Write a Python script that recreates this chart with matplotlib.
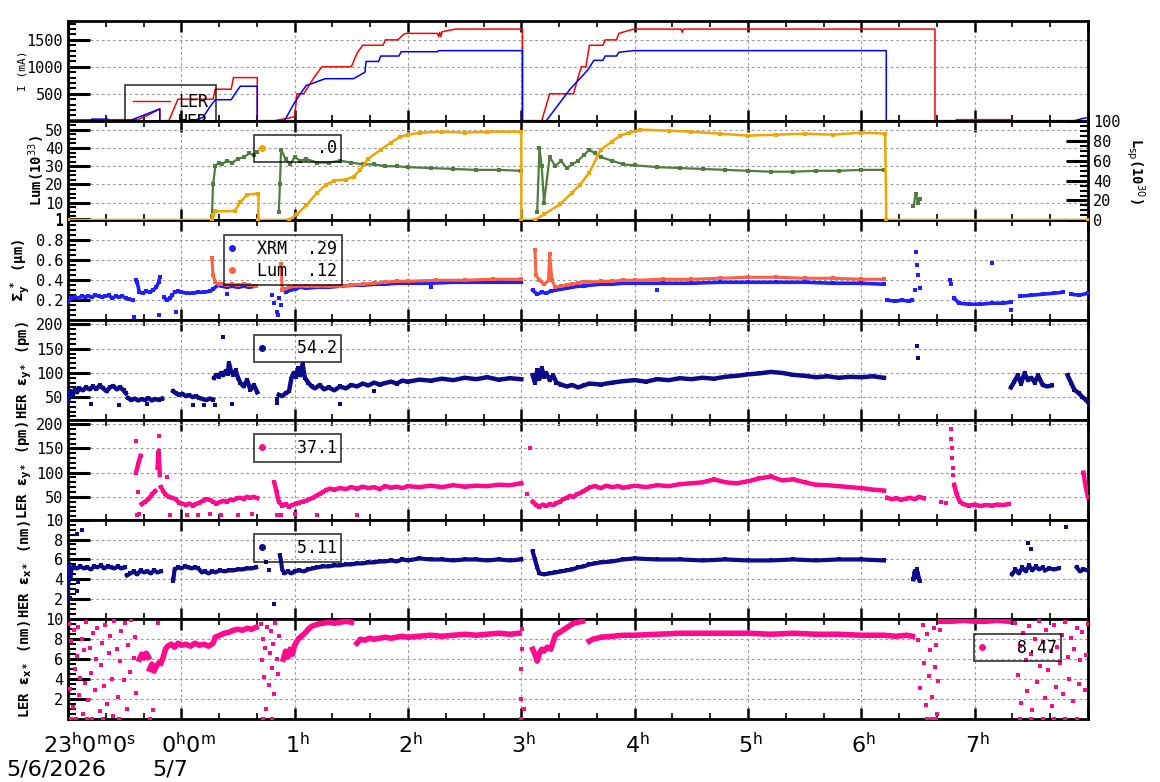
import numpy as np
import matplotlib
matplotlib.use('Agg')
import matplotlib.pyplot as plt
from matplotlib.ticker import MultipleLocator
from matplotlib.lines import Line2D
import matplotlib.transforms as mtransforms

nan = np.nan

# ---- beam currents (hours from 0h of 5/7, mA)
ler_t = [-1.0, -0.38, -0.30, -0.19, -0.19, -0.11, -0.06, -0.03, 0.28, 0.30, 0.44, 0.46, 0.67, 0.67, 0.82, 0.95,
         1.00, 1.02, 1.08, 1.17, 1.24, 1.50, 1.55, 1.60, 1.78, 1.80, 1.91, 1.96, 1.98, 2.26, 2.27, 2.28, 2.29,
         2.30, 2.42, 3.01, 3.01, 3.18, 3.25, 3.46, 3.50, 3.53, 3.57, 3.60, 3.72, 3.74, 3.84, 3.86, 3.99, 4.41,
         4.42, 4.43, 6.65, 6.65, 6.83, 6.84, 7.33, 7.34, 8.0]
ler_i = [15, 20, 100, 215, 0, 0, 250, 400, 400, 585, 585, 800, 800, 0, 0, 50,
         80, 500, 500, 800, 1000, 1000, 1250, 1400, 1400, 1500, 1500, 1600, 1620, 1620, 1560, 1640, 1560,
         1650, 1700, 1700, 0, 0, 500, 500, 800, 1000, 1000, 1400, 1400, 1500, 1500, 1620, 1700, 1700,
         1640, 1700, 1700, 0, 0, 20, 20, 0, 0]
her_t = [-1.0, -0.80, -0.79, -0.65, -0.64, -0.45, -0.19, -0.19, 0.10, 0.19, 0.25, 0.30, 0.44, 0.48, 0.52, 0.67,
         0.67, 0.91, 1.00, 1.10, 1.27, 1.52, 1.62, 1.63, 1.74, 1.76, 1.92, 1.94, 2.26, 2.27, 3.01, 3.01, 3.22,
         3.43, 3.59, 3.64, 3.72, 3.74, 3.84, 3.86, 3.99, 6.22, 6.22, 7.88, 7.95, 8.0]
her_i = [5, 5, 30, 30, 5, 5, 220, 0, 0, 60, 250, 390, 390, 520, 640, 640,
         0, 0, 340, 650, 780, 780, 900, 1100, 1100, 1200, 1200, 1280, 1280, 1300, 1300, 0, 0,
         585, 950, 1120, 1120, 1200, 1200, 1270, 1300, 1300, 0, 0, 40, 60]

# ---- luminosity (10^33) and specific luminosity (10^30)
lum = [(0.27, 3), (0.28, 20), (0.30, 30), (0.33, 32), (0.36, 31), (0.40, 33), (0.45, 32), (0.50, 34), (0.55, 35),
       (0.60, 37), (0.64, 36), (0.67, 38), (nan, nan),
       (0.86, 5), (0.87, 20), (0.88, 39), (0.92, 34), (0.96, 31), (1.00, 35), (1.05, 33), (1.10, 34), (1.20, 32),
       (1.30, 32), (1.40, 33), (1.50, 32), (1.60, 31), (1.70, 31), (1.80, 30), (1.90, 30), (2.00, 29.5),
       (2.20, 29), (2.40, 28.5), (2.60, 28), (2.80, 28), (3.00, 27.5), (nan, nan),
       (3.14, 5), (3.16, 40), (3.18, 30), (3.20, 10), (3.25, 35), (3.30, 30), (3.35, 33), (3.40, 29),
       (3.45, 31), (3.50, 33), (3.55, 36), (3.60, 39), (3.65, 37), (3.70, 35), (3.80, 33), (3.90, 31),
       (4.00, 30.5), (4.20, 29.5), (4.40, 29), (4.60, 28.5), (4.80, 28), (5.00, 27.5), (5.20, 27), (5.40, 27),
       (5.60, 27.5), (5.80, 27.5), (6.00, 28), (6.20, 28), (nan, nan),
       (6.46, 8), (6.48, 15), (6.50, 10), (6.52, 12)]
lsp = [(-1.0, 0.5), (0.27, 0.5), (0.28, 5), (0.30, 9), (0.47, 9.5), (0.52, 18), (0.58, 26), (0.68, 27), (0.68, 0.5),
       (0.95, 0.5), (1.02, 6), (1.10, 15), (1.20, 28), (1.28, 36), (1.35, 40), (1.45, 41), (1.52, 44),
       (1.58, 51), (1.65, 62), (1.76, 71), (1.85, 78), (1.93, 84), (2.00, 86), (2.11, 88), (2.30, 89),
       (2.50, 88), (2.70, 89), (3.00, 89), (3.00, 0.5), (3.12, 0.5), (3.20, 6), (3.34, 16), (3.45, 28),
       (3.52, 36), (3.60, 48), (3.70, 71), (3.80, 79), (3.87, 85), (3.95, 88), (4.05, 91), (4.30, 90),
       (4.50, 89), (4.75, 87), (5.00, 85), (5.25, 86), (5.50, 87), (5.75, 86), (6.00, 88), (6.21, 87),
       (6.22, 0.5), (8.0, 0.5)]

# ---- vertical beam size at IP (um)
xrm = [(-1.00, 0.18), (-0.97, 0.22), (-0.94, 0.23), (-0.91, 0.22), (-0.88, 0.24), (-0.85, 0.23), (-0.82, 0.24),
       (-0.79, 0.23), (-0.76, 0.25), (-0.73, 0.24), (-0.70, 0.23), (-0.67, 0.24), (-0.64, 0.25), (-0.61, 0.22),
       (-0.58, 0.24), (-0.55, 0.23), (-0.52, 0.24), (-0.49, 0.22), (-0.46, 0.21), (-0.43, 0.20), (nan, nan),
       (-0.40, 0.40), (-0.39, 0.38), (-0.37, 0.28), (-0.34, 0.27), (-0.31, 0.29), (-0.28, 0.28), (-0.25, 0.30),
       (-0.22, 0.33), (-0.20, 0.38), (-0.19, 0.43), (nan, nan),
       (-0.15, 0.23), (-0.13, 0.20), (-0.10, 0.22), (-0.08, 0.25), (nan, nan),
       (-0.06, 0.28), (-0.03, 0.29), (0.00, 0.28), (0.05, 0.27), (0.10, 0.27), (0.15, 0.28), (0.20, 0.28),
       (0.25, 0.29), (0.28, 0.31), (0.32, 0.35), (0.36, 0.34), (0.40, 0.33), (0.45, 0.34), (0.50, 0.33),
       (0.55, 0.34), (0.60, 0.33), (0.65, 0.34), (nan, nan),
       (0.92, 0.28), (0.96, 0.30), (1.00, 0.31), (1.05, 0.33), (1.10, 0.32), (1.20, 0.33), (1.30, 0.33),
       (1.40, 0.34), (1.50, 0.35), (1.60, 0.35), (1.70, 0.36), (1.80, 0.36), (1.90, 0.37), (2.00, 0.37),
       (2.20, 0.37), (2.40, 0.38), (2.60, 0.38), (2.80, 0.38), (3.00, 0.38), (nan, nan),
       (3.10, 0.30), (3.14, 0.26), (3.18, 0.28), (3.22, 0.27), (3.26, 0.29), (3.30, 0.30), (3.35, 0.31),
       (3.40, 0.32), (3.45, 0.33), (3.50, 0.34), (3.55, 0.34), (3.60, 0.35), (3.70, 0.36), (3.80, 0.36),
       (3.90, 0.37), (4.00, 0.37), (4.25, 0.37), (4.50, 0.37), (4.75, 0.38), (5.00, 0.38), (5.25, 0.38),
       (5.50, 0.38), (5.75, 0.37), (6.00, 0.37), (6.20, 0.36), (nan, nan),
       (6.23, 0.20), (6.30, 0.19), (6.36, 0.20), (6.42, 0.19), (6.45, 0.20), (nan, nan),
       (6.82, 0.22), (6.86, 0.17), (6.95, 0.16), (7.05, 0.16), (7.15, 0.17), (7.25, 0.17), (7.32, 0.18), (nan, nan),
       (7.40, 0.24), (7.50, 0.25), (7.60, 0.26), (7.70, 0.27), (7.78, 0.28), (nan, nan),
       (7.85, 0.26), (7.92, 0.25), (8.00, 0.27)]
xrm_out = [(-0.42, 0.03), (-0.20, 0.05), (-0.05, 0.08), (0.80, 0.25), (0.82, 0.17), (0.84, 0.08), (0.85, 0.05),
           (0.86, 0.22), (0.88, 0.15), (6.47, 0.30), (6.48, 0.68), (6.49, 0.55), (6.50, 0.45), (6.52, 0.32),
           (6.78, 0.40), (6.79, 0.36), (7.32, 0.10), (7.15, 0.57), (2.20, 0.33), (4.20, 0.30), (0.40, 0.26)]
lum_sz = [(0.27, 0.62), (0.28, 0.45), (0.30, 0.38), (0.33, 0.36), (0.36, 0.36), (0.40, 0.35), (0.45, 0.36),
          (0.50, 0.35), (0.55, 0.36), (0.60, 0.35), (0.66, 0.34), (nan, nan),
          (0.88, 0.56), (0.89, 0.30), (0.91, 0.31), (0.95, 0.33), (1.00, 0.34), (1.10, 0.34), (1.20, 0.34),
          (1.30, 0.34), (1.40, 0.34), (1.50, 0.35), (1.60, 0.36), (1.70, 0.37), (1.80, 0.38), (1.90, 0.39),
          (2.00, 0.39), (2.25, 0.40), (2.50, 0.40), (2.75, 0.41), (3.00, 0.41), (nan, nan),
          (3.12, 0.70), (3.13, 0.45), (3.16, 0.40), (3.20, 0.36), (3.24, 0.40), (3.25, 0.66), (3.27, 0.40),
          (3.30, 0.33), (3.35, 0.34), (3.40, 0.35), (3.45, 0.36), (3.50, 0.37), (3.55, 0.38), (3.60, 0.38),
          (3.70, 0.39), (3.80, 0.39), (3.90, 0.40), (4.00, 0.40), (4.25, 0.41), (4.50, 0.41), (4.75, 0.42),
          (5.00, 0.43), (5.25, 0.43), (5.50, 0.42), (5.75, 0.42), (6.00, 0.41), (6.20, 0.41)]

# ---- HER vertical emittance (pm)
her_ey = [(-1.00, 40), (-0.98, 62), (-0.96, 55), (-0.94, 66), (-0.92, 60), (-0.90, 68), (-0.87, 64), (-0.84, 70),
          (-0.81, 66), (-0.78, 72), (-0.75, 67), (-0.72, 74), (-0.69, 68), (-0.66, 62), (-0.63, 70), (-0.60, 73),
          (-0.57, 66), (-0.54, 70), (-0.51, 64), (-0.49, 58), (nan, nan),
          (-0.47, 48), (-0.44, 44), (-0.41, 47), (-0.38, 43), (-0.35, 46), (-0.32, 44), (-0.29, 48), (-0.26, 43),
          (-0.23, 46), (-0.20, 44), (-0.17, 47), (nan, nan),
          (-0.07, 62), (-0.05, 58), (-0.02, 55), (0.01, 57), (0.04, 52), (0.07, 54), (0.10, 50), (0.13, 52),
          (0.16, 48), (0.19, 46), (0.22, 44), (0.25, 47), (0.28, 45), (nan, nan),
          (0.29, 90), (0.31, 96), (0.33, 92), (0.35, 100), (0.37, 95), (0.39, 104), (0.41, 98), (0.42, 120),
          (0.44, 102), (0.46, 96), (0.48, 105), (0.50, 90), (0.52, 80), (0.55, 72), (0.58, 85), (0.61, 65),
          (0.64, 75), (0.67, 60), (nan, nan),
          (0.86, 55), (0.89, 52), (0.92, 58), (0.95, 62), (0.97, 88), (0.99, 100), (1.01, 92), (1.03, 110),
          (1.05, 95), (1.07, 118), (1.09, 90), (1.12, 80), (1.15, 72), (1.18, 68), (1.22, 75), (1.26, 66),
          (1.30, 70), (1.35, 64), (1.40, 72), (1.45, 68), (1.50, 75), (1.55, 72), (1.60, 78), (1.65, 74),
          (1.70, 80), (1.75, 76), (1.80, 79), (1.85, 82), (1.90, 78), (1.95, 84), (2.00, 82), (2.10, 86),
          (2.20, 84), (2.30, 88), (2.40, 85), (2.50, 90), (2.60, 87), (2.70, 91), (2.80, 86), (2.90, 89),
          (3.00, 87), (nan, nan),
          (3.10, 95), (3.12, 80), (3.14, 105), (3.16, 88), (3.18, 110), (3.20, 92), (3.22, 100), (3.25, 85),
          (3.28, 95), (3.31, 80), (3.35, 76), (3.40, 72), (3.45, 75), (3.50, 70), (3.55, 74), (3.60, 78),
          (3.70, 76), (3.80, 80), (3.90, 83), (4.00, 85), (4.10, 82), (4.20, 87), (4.30, 85), (4.40, 89),
          (4.50, 87), (4.60, 90), (4.70, 88), (4.80, 92), (4.90, 94), (5.00, 97), (5.10, 99), (5.20, 102),
          (5.30, 100), (5.40, 96), (5.50, 94), (5.60, 91), (5.70, 93), (5.80, 90), (5.90, 92), (6.00, 91),
          (6.10, 93), (6.20, 90), (nan, nan),
          (7.32, 70), (7.35, 82), (7.38, 95), (7.41, 78), (7.44, 100), (7.47, 85), (7.50, 90), (7.53, 80),
          (7.56, 95), (7.60, 75), (7.64, 72), (7.68, 74), (nan, nan),
          (7.82, 95), (7.85, 80), (7.88, 65), (7.92, 58), (7.95, 50), (7.98, 45), (8.00, 40)]
her_ey_out = [(0.37, 175), (6.49, 155), (6.50, 130), (-0.80, 35), (-0.55, 34), (0.10, 34), (0.30, 34),
              (0.45, 35), (0.84, 38), (0.84, 46), (1.40, 36), (1.70, 62), (-0.30, 36), (0.20, 34)]

# ---- LER vertical emittance (pm)
ler_ey = [(-0.40, 100), (-0.38, 118), (-0.36, 135), (nan, nan),
          (-0.35, 35), (-0.32, 40), (-0.29, 45), (-0.26, 55), (-0.23, 62), (nan, nan),
          (-0.21, 110), (-0.20, 145), (-0.19, 95), (nan, nan),
          (-0.18, 70), (-0.16, 62), (-0.14, 55), (-0.11, 50), (-0.08, 48), (-0.05, 45), (-0.02, 38), (0.01, 36),
          (0.04, 33), (0.07, 36), (0.10, 32), (0.13, 35), (0.16, 38), (0.19, 42), (0.22, 45), (0.25, 44),
          (0.28, 40), (0.31, 36), (0.34, 39), (0.37, 42), (0.40, 40), (0.43, 44), (0.46, 43), (0.49, 47),
          (0.52, 48), (0.55, 46), (0.58, 50), (0.61, 48), (0.64, 50), (0.67, 47), (nan, nan),
          (0.82, 80), (0.84, 60), (0.86, 40), (0.89, 32), (0.92, 35), (0.95, 30), (0.98, 33), (1.01, 36),
          (1.04, 38), (1.07, 40), (1.10, 42), (1.13, 45), (1.16, 48), (1.19, 52), (1.22, 56), (1.25, 60),
          (1.28, 64), (1.31, 67), (1.35, 65), (1.40, 68), (1.45, 66), (1.50, 70), (1.55, 67), (1.60, 71),
          (1.65, 68), (1.70, 70), (1.75, 66), (1.80, 72), (1.85, 69), (1.90, 71), (1.95, 68), (2.00, 72),
          (2.10, 70), (2.20, 73), (2.30, 70), (2.40, 74), (2.50, 71), (2.60, 73), (2.70, 72), (2.80, 75),
          (2.90, 74), (3.00, 78), (nan, nan),
          (3.10, 40), (3.13, 33), (3.16, 30), (3.19, 34), (3.22, 31), (3.25, 35), (3.28, 33), (3.31, 37),
          (3.34, 40), (3.37, 45), (3.40, 48), (3.43, 52), (3.46, 50), (3.49, 55), (3.52, 58), (3.55, 62),
          (3.58, 66), (3.61, 70), (3.65, 72), (3.70, 68), (3.75, 73), (3.80, 70), (3.85, 72), (3.90, 69),
          (3.95, 71), (4.00, 73), (4.10, 70), (4.20, 74), (4.30, 72), (4.40, 76), (4.50, 78), (4.60, 80),
          (4.70, 86), (4.80, 80), (4.90, 78), (5.00, 82), (5.10, 88), (5.20, 92), (5.30, 84), (5.40, 86),
          (5.50, 80), (5.60, 75), (5.70, 74), (5.80, 72), (5.90, 70), (6.00, 68), (6.10, 65), (6.20, 63),
          (nan, nan),
          (6.23, 48), (6.27, 45), (6.31, 47), (6.35, 44), (6.39, 46), (6.43, 48), (6.47, 45), (6.51, 50),
          (6.55, 47), (nan, nan),
          (6.82, 75), (6.84, 55), (6.87, 40), (6.90, 35), (6.95, 32),
          (7.00, 34), (7.05, 31), (7.10, 33), (7.15, 32), (7.20, 34), (7.25, 33), (7.30, 35), (nan, nan),
          (7.96, 100), (7.98, 70), (8.00, 50)]
ler_ey_out = [(-0.40, 165), (-0.38, 60), (-0.39, 12), (-0.37, 15), (-0.20, 175), (-0.13, 90), (-0.10, 12),
              (0.05, 12), (0.15, 12), (0.25, 14), (0.35, 12), (0.50, 12), (0.62, 14), (0.84, 12), (0.88, 12),
              (1.00, 14), (1.20, 12), (1.55, 12), (3.08, 150), (3.05, 55), (6.70, 40), (6.75, 38),
              (6.79, 190), (6.79, 170), (6.80, 150), (6.80, 130), (6.81, 110), (6.81, 95)]

# ---- HER horizontal emittance (nm)
her_ex = [(-1.00, 3.0), (-0.99, 5.5), (-0.98, 4.0), (-0.97, 5.0), (-0.95, 5.2), (-0.92, 5.1), (-0.89, 5.3),
          (-0.86, 5.1), (-0.83, 5.2), (-0.80, 5.0), (-0.77, 5.3), (-0.74, 5.2), (-0.71, 5.4), (-0.68, 5.1),
          (-0.65, 5.3), (-0.62, 5.2), (-0.59, 5.1), (-0.56, 5.3), (-0.53, 5.1), (-0.50, 5.2), (nan, nan),
          (-0.48, 4.4), (-0.45, 4.6), (-0.42, 4.8), (-0.39, 4.5), (-0.36, 4.9), (-0.33, 4.7), (-0.30, 4.8),
          (-0.27, 4.6), (-0.24, 4.9), (-0.21, 4.7), (-0.18, 4.8), (nan, nan),
          (-0.07, 4.0), (-0.06, 5.0), (-0.03, 5.2), (0.00, 5.1), (0.03, 5.3), (0.06, 5.2), (0.09, 5.1),
          (0.12, 5.2), (0.15, 5.1), (0.18, 4.7), (0.21, 4.8), (0.24, 4.6), (0.27, 4.8), (0.30, 4.7),
          (0.34, 4.9), (0.38, 4.8), (0.42, 4.9), (0.46, 4.9), (0.50, 5.0), (0.54, 5.0), (0.58, 5.1),
          (0.62, 5.1), (0.66, 5.2), (nan, nan),
          (0.87, 6.4), (0.88, 5.8), (0.89, 5.0), (0.91, 4.6), (0.94, 4.8), (0.97, 4.6), (1.00, 4.8),
          (1.04, 4.9), (1.08, 4.8), (1.12, 5.0), (1.16, 5.1), (1.20, 5.2), (1.25, 5.3), (1.30, 5.3),
          (1.35, 5.4), (1.40, 5.4), (1.45, 5.5), (1.50, 5.5), (1.55, 5.6), (1.60, 5.6), (1.65, 5.7),
          (1.70, 5.7), (1.75, 5.8), (1.80, 5.8), (1.85, 5.9), (1.90, 5.8), (1.95, 6.0), (2.00, 5.9),
          (2.10, 6.1), (2.20, 6.0), (2.30, 6.0), (2.40, 5.9), (2.50, 6.0), (2.60, 6.0), (2.70, 5.9),
          (2.80, 6.0), (2.90, 5.9), (3.00, 6.0), (nan, nan),
          (3.10, 6.8), (3.12, 6.0), (3.14, 5.2), (3.16, 4.6), (3.20, 4.5), (3.25, 4.6), (3.30, 4.7),
          (3.35, 4.8), (3.40, 4.9), (3.45, 5.0), (3.50, 5.2), (3.55, 5.3), (3.60, 5.5), (3.65, 5.6),
          (3.70, 5.7), (3.80, 5.8), (3.90, 6.0), (4.00, 6.1), (4.20, 6.0), (4.40, 6.0), (4.60, 5.9),
          (4.80, 6.0), (5.00, 5.9), (5.20, 5.9), (5.40, 6.0), (5.60, 5.9), (5.80, 6.0), (6.00, 6.0),
          (6.20, 5.9), (nan, nan),
          (6.46, 4.0), (6.47, 4.8), (6.48, 4.2), (6.49, 5.0), (6.50, 4.5), (6.51, 4.0), (nan, nan),
          (7.33, 4.5), (7.36, 5.0), (7.39, 4.6), (7.42, 5.2), (7.45, 4.8), (7.48, 5.4), (7.51, 4.9),
          (7.54, 5.3), (7.57, 5.0), (7.60, 5.2), (nan, nan),
          (7.62, 4.9), (7.66, 5.1), (7.70, 5.0), (7.74, 5.1), (nan, nan),
          (7.90, 5.2), (7.93, 4.8), (7.96, 5.0), (8.00, 4.9)]
her_ex_out = [(-0.92, 8.6), (-0.88, 9.0), (-0.92, 2.8), (-0.91, 3.7), (-0.98, 2.1), (0.75, 5.7), (0.82, 1.5),
              (0.77, 4.9), (7.47, 7.7), (7.50, 7.0), (6.52, 3.8), (7.81, 9.3), (-0.07, 3.8)]

# ---- LER horizontal emittance (nm)
ler_ex = [(-0.37, 6.0), (-0.35, 6.5), (-0.33, 6.1), (-0.31, 6.6), (-0.29, 6.2), (nan, nan),
          (-0.28, 5.0), (-0.26, 5.5), (-0.24, 4.8), (-0.22, 5.3), (-0.20, 5.6), (nan, nan),
          (-0.18, 5.6), (-0.16, 6.2), (-0.14, 7.0), (-0.12, 7.3), (-0.09, 7.5), (-0.06, 7.2), (-0.03, 7.6),
          (0.00, 7.4), (0.04, 7.5), (0.08, 7.3), (0.12, 7.6), (0.16, 7.4), (0.20, 7.5), (0.24, 7.3), (0.28, 7.6),
          (0.30, 8.2), (0.34, 8.4), (0.38, 8.6), (0.42, 8.7), (0.46, 8.9), (0.50, 9.0), (0.54, 8.9), (0.58, 9.1),
          (0.62, 9.0), (0.66, 9.2), (nan, nan),
          (0.90, 6.0), (0.92, 6.8), (0.94, 6.2), (0.96, 7.0), (0.98, 6.5), (1.00, 7.4), (1.03, 8.0), (1.06, 8.3),
          (1.09, 8.6), (1.12, 9.0), (1.15, 9.3), (1.20, 9.5), (1.25, 9.6), (1.30, 9.7), (1.35, 9.6), (1.40, 9.7),
          (1.45, 9.8), (1.50, 9.7), (nan, nan),
          (1.55, 7.6), (1.58, 8.0), (1.62, 7.9), (1.66, 8.1), (1.70, 8.0), (1.75, 8.1), (1.80, 8.2), (1.85, 8.1),
          (1.90, 8.2), (1.95, 8.3), (2.00, 8.2), (2.10, 8.3), (2.20, 8.4), (2.30, 8.3), (2.40, 8.4), (2.50, 8.5),
          (2.60, 8.4), (2.70, 8.5), (2.80, 8.6), (2.90, 8.5), (2.98, 8.6), (nan, nan),
          (3.10, 7.0), (3.12, 6.5), (3.14, 5.8), (3.16, 6.6), (3.18, 7.0), (3.20, 6.8), (3.23, 7.2), (3.26, 7.0),
          (3.30, 8.4), (3.34, 8.7), (3.38, 9.0), (3.42, 9.3), (3.46, 9.6), (3.50, 9.7), (3.54, 9.8), (nan, nan),
          (3.60, 7.8), (3.63, 8.0), (3.67, 8.1), (3.70, 8.2), (3.80, 8.3), (3.90, 8.4), (4.00, 8.4), (4.20, 8.5),
          (4.40, 8.6), (4.60, 8.6), (4.80, 8.6), (5.00, 8.6), (5.20, 8.5), (5.40, 8.6), (5.60, 8.5), (5.80, 8.5),
          (6.00, 8.4), (6.20, 8.4), (6.30, 8.3), (6.40, 8.4), (6.45, 8.3), (nan, nan),
          (6.70, 9.8), (6.80, 9.8), (6.90, 9.9), (7.00, 9.8), (7.10, 9.8), (7.20, 9.9), (7.30, 9.8)]
ler_ex_out = [(-0.99, 9.5), (-0.98, 3.0), (-0.97, 7.8), (-0.96, 1.2), (-0.95, 8.9), (-0.94, 5.0), (-0.93, 0.0),
              (-0.92, 6.3), (-0.91, 9.2), (-0.90, 2.4), (-0.89, 4.1), (-0.88, 8.0), (-0.87, 0.5), (-0.86, 6.9),
              (-0.85, 3.6), (-0.84, 9.7), (-0.82, 1.9), (-0.81, 7.1), (-0.80, 4.6), (-0.79, 0.0), (-0.78, 8.6),
              (-0.76, 2.9), (-0.75, 6.0), (-0.74, 9.1), (-0.72, 0.8), (-0.71, 5.4), (-0.70, 7.6), (-0.68, 3.3),
              (-0.67, 9.4), (-0.66, 1.5), (-0.64, 6.6), (-0.63, 8.3), (-0.61, 4.0), (-0.60, 0.3), (-0.59, 9.8),
              (-0.57, 7.0), (-0.56, 2.2), (-0.54, 5.8), (-0.53, 8.8), (-0.51, 3.9), (-0.50, 9.6), (-0.48, 1.0),
              (-0.47, 7.4), (-0.45, 4.7), (-0.44, 9.9), (-0.42, 6.1), (-0.41, 8.2), (-0.40, 2.6), (-0.97, 0.0),
              (-0.83, 0.0), (-0.69, 0.0), (-0.55, 0.0), (-0.25, 0.9), (-0.28, 0.0), (-0.21, 9.6),
              (0.70, 9.5), (0.71, 5.9), (0.72, 8.0), (0.73, 4.2), (0.74, 7.1), (0.75, 1.0), (0.76, 9.2),
              (0.77, 3.4), (0.78, 6.6), (0.79, 8.8), (0.80, 5.1), (0.81, 7.5), (0.82, 2.5), (0.83, 9.6),
              (0.84, 6.0), (0.85, 4.5), (0.86, 8.3), (0.72, 0.0), (0.80, 0.0),
              (3.00, 5.0), (3.00, 2.0), (3.01, 7.0), (3.00, 0.0), (3.02, 1.0), (3.01, 9.0),
              (6.50, 7.9), (6.52, 3.1), (6.54, 9.4), (6.55, 5.6), (6.57, 1.4), (6.58, 8.5), (6.60, 4.3),
              (6.61, 6.9), (6.62, 2.2), (6.64, 9.1), (6.65, 5.2), (6.66, 7.4), (6.67, 0.5), (6.68, 3.8),
              (6.69, 8.9), (6.58, 0.0), (6.62, 0.0), (6.66, 0.0),
              (7.36, 9.6), (7.38, 4.4), (7.40, 7.3), (7.41, 1.6), (7.43, 8.6), (7.45, 5.9), (7.46, 2.8),
              (7.48, 9.3), (7.50, 6.5), (7.51, 0.9), (7.53, 8.0), (7.55, 3.7), (7.57, 9.8), (7.58, 5.3),
              (7.60, 7.7), (7.62, 2.1), (7.63, 8.9), (7.65, 4.9), (7.67, 6.8), (7.68, 1.3), (7.70, 9.4),
              (7.72, 3.2), (7.73, 7.2), (7.75, 5.6), (7.77, 8.4), (7.78, 2.5), (7.80, 9.7), (7.82, 6.2),
              (7.83, 4.0), (7.85, 8.1), (7.87, 1.8), (7.88, 7.0), (7.90, 9.1), (7.92, 3.5), (7.93, 5.9),
              (7.95, 8.7), (7.97, 2.9), (7.98, 6.4), (8.00, 9.5), (7.40, 0.0), (7.50, 0.0), (7.60, 0.0),
              (7.70, 0.0), (7.80, 0.0), (7.90, 0.0)]

# legend values
leg_lum = '    .0'
leg_xrm = ['XRM  .29', 'Lum  .12']
leg_vals = ['  54.2', '  37.1', '  5.11', '  8.47']

hour_labels = [r'23$^{\mathrm{h}}$0$^{\mathrm{m}}$0$^{\mathrm{s}}$', r'0$^{\mathrm{h}}$0$^{\mathrm{m}}$',
               r'1$^{\mathrm{h}}$', r'2$^{\mathrm{h}}$', r'3$^{\mathrm{h}}$', r'4$^{\mathrm{h}}$',
               r'5$^{\mathrm{h}}$', r'6$^{\mathrm{h}}$', r'7$^{\mathrm{h}}$']
hour_pos = [-0.81, 0.06, 1.02, 2.02, 3.02, 4.02, 5.02, 6.02, 7.02]
date_labels = ['5/6/2026', '5/7']
date_pos = [-1.10, -0.10]

c_ler, c_her = '#ff0000', '#0000ff'
c_lum, c_lsp = '#4e7d3e', '#f0a500'
c_xrm, c_lsz = '#1f1fff', '#ff6040'
c_navy, c_pink = '#0c0c8a', '#ff0a8c'
mono = 'DejaVu Sans Mono'

plt.rcParams['font.family'] = mono
plt.rcParams['mathtext.fontset'] = 'dejavusans'

fig, axes = plt.subplots(7, 1, sharex=True, figsize=(11.6, 7.82), dpi=100)
fig.subplots_adjust(left=68/1160, right=1088/1160, top=1-21/782, bottom=1-719/782, hspace=0)


def style(ax, ticks, labels, ylim, minor):
    ax.set_xlim(-1, 8)
    ax.set_ylim(*ylim)
    ax.set_yticks(ticks)
    ax.set_yticklabels(labels)
    ax.yaxis.set_minor_locator(MultipleLocator(minor))
    ax.xaxis.set_major_locator(MultipleLocator(1))
    ax.xaxis.set_minor_locator(MultipleLocator(1/3))
    ax.tick_params(axis='y', which='major', direction='in', length=16, width=2.2, labelsize=11)
    ax.tick_params(axis='y', which='minor', direction='in', length=6, width=1.5)
    ax.tick_params(axis='x', which='major', direction='in', length=8, width=1.8, top=True, bottom=True,
                   labelbottom=False)
    ax.tick_params(axis='x', which='minor', direction='in', length=4, width=1.2, top=True, bottom=True)
    ax.grid(True, which='major', color='#999999', ls=(0, (2.5, 2.5)), lw=0.8)
    for s in ax.spines.values():
        s.set_linewidth(2)


def band(ax, pairs, color, lw, ms, zorder=3):
    a = np.array(pairs, dtype=float)
    ax.plot(a[:, 0], a[:, 1], color=color, lw=lw, marker='s', ms=ms, mew=0, zorder=zorder)


def dots(ax, pairs, color, ms=2.5):
    a = np.array(pairs, dtype=float)
    ax.plot(a[:, 0], a[:, 1], ls='', marker='s', ms=ms, mew=0, color=color, zorder=3)


def box_legend(ax, handles, labels, anchor, lsp=0.25, hl=0.4, htp=0.7, bp=0.28):
    lg = ax.legend(handles, labels, loc='upper left', bbox_to_anchor=anchor, borderaxespad=0,
                   prop={'family': mono, 'size': 12}, fancybox=False, frameon=True,
                   handlelength=hl, handletextpad=htp, borderpad=bp, labelspacing=lsp)
    lg.get_frame().set_facecolor('none')
    lg.get_frame().set_edgecolor('black')
    lg.get_frame().set_linewidth(1.2)
    lg.set_zorder(10)
    return lg


def dot_handle(color):
    return Line2D([], [], ls='', marker='o', ms=4, color=color)


# panel 1: currents
ax = axes[0]
style(ax, [500, 1000, 1500], ['500', '1000', '1500'], (0, 1850), 100)
ax.plot(ler_t, ler_i, color=c_ler, lw=1.1)
ax.plot(her_t, her_i, color=c_her, lw=1.1)
ax.set_ylabel('I (mA)', fontsize=8)
ax.yaxis.set_label_coords(-0.040, 0.5)
box_legend(ax, [Line2D([], [], color=c_ler, lw=1), Line2D([], [], color=c_her, lw=1)], ['LER', 'HER'],
           (0.056, 0.358), lsp=0.1, hl=2.2, htp=0.5, bp=0.48)

# panel 2: luminosity
ax = axes[1]
style(ax, [1, 10, 20, 30, 40, 50], ['1', '10', '20', '30', '40', '50'], (0.34, 54.9), 2.5)
band(ax, lum, c_lum, 1.6, 2.2)
ax.set_ylabel('Lum(10$^{33}$)', fontsize=10, fontweight='bold')
ax.yaxis.set_label_coords(-0.021, 0.5)
axr = ax.twinx()
axr.set_ylim(0, 100)
axr.set_yticks([0, 20, 40, 60, 80, 100])
axr.yaxis.set_minor_locator(MultipleLocator(5))
axr.tick_params(axis='y', which='major', direction='in', length=16, width=2.2, labelsize=11)
axr.tick_params(axis='y', which='minor', direction='in', length=6, width=1.5)
band(axr, lsp, c_lsp, 1.8, 2.2)
axr.set_ylabel('L$_{\\mathrm{sp}}$(10$^{30}$)', fontsize=10, fontweight='bold', rotation=270, labelpad=16)
axr.yaxis.set_label_coords(1.058, 0.5)
box_legend(axr, [dot_handle(c_lsp)], [leg_lum], (0.182, 0.860))

# panel 3: beam size
ax = axes[2]
style(ax, [0.2, 0.4, 0.6, 0.8, 1.0], ['0.2', '0.4', '0.6', '0.8', '1'], (0, 1), 0.05)
band(ax, xrm, c_xrm, 2.6, 2.5)
dots(ax, xrm_out, c_xrm)
band(ax, lum_sz, c_lsz, 2.2, 2.2, zorder=4)
ax.set_ylabel(r'$\mathbf{\Sigma_y^{\ *}}$ (μm)', fontsize=10, fontweight='bold')
ax.yaxis.set_label_coords(-0.034, 0.5)
box_legend(ax, [dot_handle(c_xrm), dot_handle(c_lsz)], leg_xrm, (0.153, 0.850), htp=1.3)

# panel 4: HER vertical emittance
ax = axes[3]
style(ax, [50, 100, 150, 200], ['50', '100', '150', '200'], (3, 209), 10)
band(ax, her_ey, c_navy, 3.2, 2.5)
dots(ax, her_ey_out, c_navy)
ax.set_ylabel(r'HER $\mathbf{\varepsilon_{y*}}$ (pm)', fontsize=10, fontweight='bold')
ax.yaxis.set_label_coords(-0.033, 0.5)
box_legend(ax, [dot_handle(c_navy)], [leg_vals[0]], (0.182, 0.854))

# panel 5: LER vertical emittance ("10" at its bottom edge is shared with panel 6's top label)
ax = axes[4]
style(ax, [50, 100, 150, 200], ['50', '100', '150', '200'], (3, 209), 10)
band(ax, ler_ey, c_pink, 3.2, 2.5)
dots(ax, ler_ey_out, c_pink)
ax.set_ylabel(r'LER $\mathbf{\varepsilon_{y*}}$ (pm)', fontsize=10, fontweight='bold')
ax.yaxis.set_label_coords(-0.033, 0.5)
box_legend(ax, [dot_handle(c_pink)], [leg_vals[1]], (0.182, 0.855))

# panel 6: HER horizontal emittance
ax = axes[5]
style(ax, [2, 4, 6, 8, 10], ['2', '4', '6', '8', '10'], (0, 10), 0.5)
band(ax, her_ex, c_navy, 3.0, 2.5)
dots(ax, her_ex_out, c_navy)
ax.set_ylabel(r'HER $\mathbf{\varepsilon_{x*}}$ (nm)', fontsize=10, fontweight='bold')
ax.yaxis.set_label_coords(-0.033, 0.5)
box_legend(ax, [dot_handle(c_navy)], [leg_vals[2]], (0.182, 0.853))

# panel 7: LER horizontal emittance
ax = axes[6]
style(ax, [2, 4, 6, 8, 10], ['2', '4', '6', '8', '10'], (0, 10), 0.5)
band(ax, ler_ex, c_pink, 4.0, 2.5)
dots(ax, ler_ex_out, c_pink)
ax.set_ylabel(r'LER $\mathbf{\varepsilon_{x*}}$ (nm)', fontsize=10, fontweight='bold')
ax.yaxis.set_label_coords(-0.033, 0.5)
box_legend(ax, [dot_handle(c_pink)], [leg_vals[3]], (0.888, 0.854))

trans = mtransforms.blended_transform_factory(ax.transData, ax.transAxes)
for h, lab in zip(hour_pos, hour_labels):
    ax.text(h, -0.26, lab, transform=trans, ha='center', va='center', fontsize=16, family='DejaVu Sans')
for h, lab in zip(date_pos, date_labels):
    ax.text(h, -0.51, lab, transform=trans, ha='center', va='center', fontsize=16, family='DejaVu Sans',
            clip_on=False)

fig.savefig('out.png', dpi=100)
